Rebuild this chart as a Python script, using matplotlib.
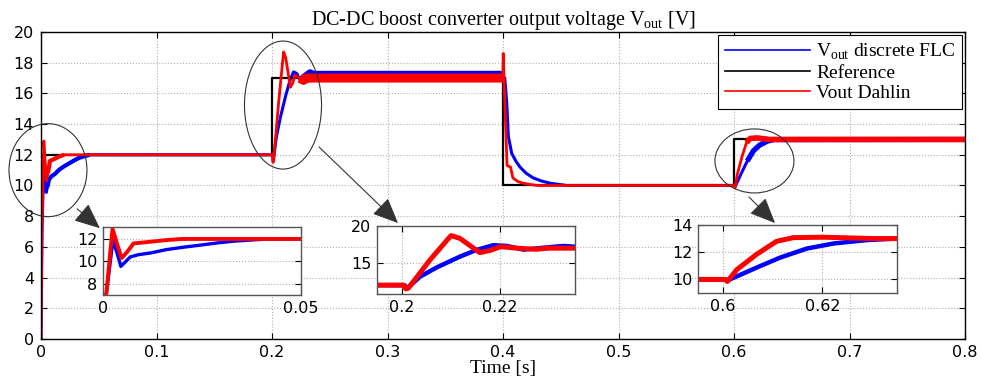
import matplotlib
matplotlib.use("Agg")
import matplotlib.pyplot as plt
import numpy as np
from matplotlib.patches import Ellipse, FancyArrowPatch

# reference set-point [V]
ref_t = [0, 0.2, 0.2, 0.4, 0.4, 0.6, 0.6, 0.8]
ref_v = [12, 12, 17, 17, 10, 10, 13, 13]

# Vout with discrete FLC
flc_t = [0, 0.0008, 0.0025, 0.0035, 0.0045, 0.0055, 0.0069, 0.009, 0.012, 0.016,
         0.020, 0.0246, 0.029, 0.033, 0.038, 0.042,
         0.2005, 0.2011, 0.2037, 0.2071, 0.2118, 0.2152, 0.2186, 0.2214, 0.2248,
         0.2295, 0.2330, 0.2353,
         0.3998, 0.4015, 0.4032, 0.4046, 0.4075, 0.4110, 0.4147, 0.4200, 0.4260,
         0.4330, 0.4407, 0.4550,
         0.6005, 0.6011, 0.6068, 0.6115, 0.6169, 0.6223, 0.6290, 0.6344, 0.8]
flc_v = [0, 7.0, 11.85, 10.8, 9.55, 9.9, 10.4, 10.6, 10.75, 11.05,
         11.25, 11.45, 11.65, 11.8, 11.92, 12.0,
         12.0, 11.6, 13.15, 14.4, 15.85, 16.76, 17.4, 17.3, 16.8,
         17.1, 17.3, 17.2,
         17.2, 17.0, 15.4, 13.2, 12.1, 11.6, 11.2, 10.8, 10.5,
         10.3, 10.15, 10.0,
         10.0, 9.95, 10.87, 11.6, 12.27, 12.64, 12.89, 12.99, 13.0]

# Vout with Dahlin controller
dah_t = [0, 0.0008, 0.0024, 0.0036, 0.0047, 0.0060, 0.0077, 0.012, 0.016, 0.020,
         0.2003, 0.2008, 0.2013, 0.2057, 0.2100, 0.2118, 0.2159, 0.2180, 0.2201,
         0.2239, 0.2273, 0.2300, 0.2353,
         0.3998, 0.4002, 0.4008, 0.4035, 0.4065, 0.4085, 0.4130, 0.4173, 0.4250, 0.4300,
         0.6003, 0.6009, 0.6028, 0.6068, 0.6108, 0.6142, 0.6202, 0.6303, 0.8]
dah_v = [0, 7.0, 12.9, 11.5, 10.3, 10.8, 11.6, 11.75, 11.9, 12.0,
         12.0, 11.5, 11.6, 15.4, 18.7, 18.33, 16.4, 16.7, 17.2,
         16.98, 16.85, 17.0, 17.0,
         17.0, 18.6, 17.0, 11.3, 11.2, 10.5, 10.25, 10.15, 10.05, 10.0,
         10.0, 9.85, 10.72, 11.85, 12.8, 13.07, 13.1, 13.0, 13.0]

BLUE = '#0000ff'
RED = '#ff0000'
serif = ['Liberation Serif', 'DejaVu Serif']

plt.rcParams['font.family'] = ['DejaVu Sans']
plt.rcParams['xtick.direction'] = 'in'
plt.rcParams['ytick.direction'] = 'in'
plt.rcParams['mathtext.fontset'] = 'custom'
plt.rcParams['mathtext.rm'] = 'Liberation Serif'


def part(t, v, t0, t1):
    t = np.asarray(t)
    v = np.asarray(v)
    m = (t >= t0) & (t <= t1)
    return t[m], v[m]


def style_axes(ax, size=11.5, edge='black'):
    ax.grid(True, linestyle=':', color='#b0b0b0', linewidth=0.8)
    ax.tick_params(top=True, right=True, labelsize=size, length=4, width=0.8,
                   pad=4)
    for s in ax.spines.values():
        s.set_color(edge)
        s.set_linewidth(1.0)


fig = plt.figure(figsize=(9.82, 3.76), dpi=100)
ax = fig.add_axes([0.0418, 0.0984, 0.9409, 0.8165])

ax.plot(flc_t, flc_v, color=BLUE, lw=2.2, label=r'V$_{\rm out}$ discrete FLC')
for t0, t1, w in [(0.005, 0.2, 3.0), (0.222, 0.4, 6.0), (0.61, 0.8, 3.8)]:
    ax.plot(*part(flc_t, flc_v, t0, t1), color=BLUE, lw=w, solid_capstyle='butt')
ax.plot(ref_t, ref_v, color='black', lw=1.6, label='Reference')
ax.plot(dah_t, dah_v, color=RED, lw=2.0, label='Vout Dahlin')
for t0, t1, w in [(0.005, 0.2, 3.0), (0.222, 0.4, 6.5), (0.61, 0.8, 4.0)]:
    ax.plot(*part(dah_t, dah_v, t0, t1), color=RED, lw=w, solid_capstyle='butt')

ax.set_xlim(0, 0.8)
ax.set_ylim(0, 20)
ax.set_xticks(np.arange(0, 0.81, 0.1))
ax.set_xticklabels(['0', '0.1', '0.2', '0.3', '0.4', '0.5', '0.6', '0.7', '0.8'])
ax.set_yticks(np.arange(0, 21, 2))
style_axes(ax)
ax.tick_params(axis='y', pad=5)
ax.set_title(r'DC-DC boost converter output voltage V$_{\rm out}$ [V]',
             family=serif, fontsize=14.5, pad=5)
ax.set_xlabel('Time [s]', family=serif, fontsize=14, labelpad=0)

leg = ax.legend(loc='upper right', bbox_to_anchor=(0.9797, 0.9069),
                bbox_transform=fig.transFigure, borderaxespad=0,
                prop={'family': serif, 'size': 14}, handlelength=4.4,
                labelspacing=0.12, fancybox=False, framealpha=1,
                edgecolor='black', borderpad=0.35, handletextpad=0.3)
leg.get_frame().set_linewidth(0.8)
for h in leg.get_lines():
    h.set_linewidth(1.2)

# zoom marks
for xc, yc, w, h in [(0.006, 11.0, 0.0675, 6.06),
                     (0.2095, 15.24, 0.0667, 8.34),
                     (0.6177, 11.6, 0.0684, 4.17)]:
    ax.add_patch(Ellipse((xc, yc), w, h, fill=False, edgecolor='#333333',
                         lw=0.8, clip_on=False, zorder=5))

W, H = 982.0, 376.0
for (x0, y0), (x1, y1) in [((75, 207), (102, 230)),
                           ((317, 145), (400, 225)),
                           ((747, 195), (777, 225))]:
    fig.add_artist(FancyArrowPatch(
        (x0 / W, 1 - y0 / H), (x1 / W, 1 - y1 / H), transform=fig.transFigure,
        arrowstyle='-|>,head_length=0.8,head_width=0.35', mutation_scale=20,
        color='#333333', lw=0.8, zorder=10))

# insets
insets = [
    ([0.1049, 0.2154, 0.2016, 0.181], (0, 0.05), (7, 13.07), [0, 0.05], ['0', '0.05'], [8, 10, 12], 2.4),
    ([0.3839, 0.2180, 0.2016, 0.181], (0.1949, 0.2353), (10.8, 20), [0.2, 0.22], ['0.2', '0.22'], [15, 20], 3.2),
    ([0.7108, 0.2207, 0.2026, 0.181], (0.595, 0.635), (9, 14), [0.6, 0.62], ['0.6', '0.62'], [10, 12, 14], 3.2),
]
for rect, xl, yl, xt, xtl, yt, w in insets:
    ia = fig.add_axes(rect)
    ia.plot(flc_t, flc_v, color=BLUE, lw=w, solid_joinstyle='round')
    ia.plot(dah_t, dah_v, color=RED, lw=w + 0.4, solid_joinstyle='round')
    ia.set_xlim(*xl)
    ia.set_ylim(*yl)
    ia.set_xticks(xt)
    ia.set_xticklabels(xtl)
    ia.set_yticks(yt)
    style_axes(ia, edge='#555555')

fig.savefig('out.png', dpi=100)
